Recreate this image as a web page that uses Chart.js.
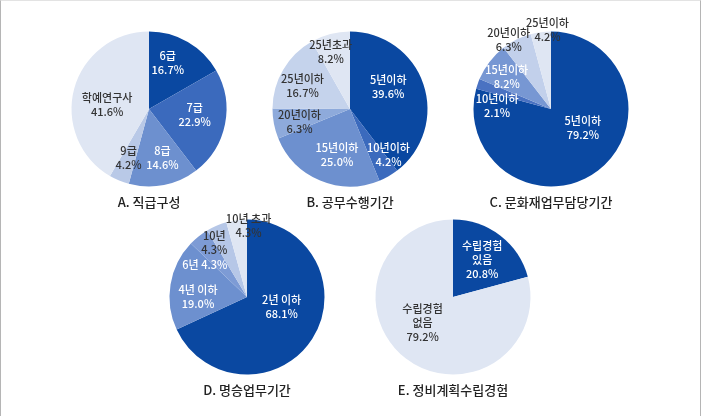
<!DOCTYPE html>
<html><head><meta charset="utf-8">
<script src="https://cdn.jsdelivr.net/npm/chart.js@4.4.1/dist/chart.umd.min.js"></script>
<style>
html,body{margin:0;padding:0;background:#fff;}
#wrap{position:relative;width:701px;height:416px;box-sizing:border-box;border-left:1px solid #b5b5b5;border-right:1px solid #b5b5b5;border-top:1px solid #e3e3e3;overflow:hidden;}
canvas{position:absolute;}
</style></head><body><div id="wrap">
<canvas id="cA" width="240" height="206" style="left:28px;top:8px"></canvas>
<canvas id="cB" width="240" height="206" style="left:229px;top:8px"></canvas>
<canvas id="cC" width="240" height="206" style="left:430px;top:8px"></canvas>
<canvas id="cD" width="240" height="206" style="left:126px;top:196px"></canvas>
<canvas id="cE" width="240" height="206" style="left:332px;top:196px"></canvas>
</div>
<script>
// ---- data ----
const catA = ['6급','7급','8급','9급','학예연구사'];
const valA = [16.7, 22.9, 14.6, 4.2, 41.6];
const catB = ['5년이하','10년이하','15년이하','20년이하','25년이하','25년초과'];
const valB = [39.6, 4.2, 25.0, 6.3, 16.7, 8.2];
const catC = ['5년이하','10년이하','15년이하','20년이하','25년이하'];
const valC = [79.2, 2.1, 8.2, 6.3, 4.2];
const catD = ['2년 이하','4년 이하','6년','10년','10년 초과'];
const valD = [68.1, 19.0, 4.3, 4.3, 4.3];
const catE = ['수립경험\n있음','수립경험\n없음'];
const valE = [20.8, 79.2];
const titles = ['A. 직급구성','B. 공무수행기간','C. 문화재업무담당기간','D. 명승업무기간','E. 정비계획수립경험'];

// ---- styles ----
const FONT = "'Noto Sans CJK KR', 'Noto Sans', sans-serif";
const DARK = '#0a48a1', C2 = '#3b6abd', C3 = '#6d90cf', C4 = '#8eaadb', C5 = '#b9c9e7', C6 = '#dfe6f3';
const W = '#ffffff', K = '#333333';

const sliceLabels = {
  id: 'sliceLabels',
  afterDatasetsDraw(chart, args, opts) {
    const ctx = chart.ctx;
    const meta = chart.getDatasetMeta(0);
    const ds = chart.data.datasets[0];
    meta.data.forEach((arc, i) => {
      const p = arc.getProps(['x','y','startAngle','endAngle','outerRadius'], true);
      const mid = (p.startAngle + p.endAngle) / 2 + (opts.shift[i] || 0) * Math.PI / 180;
      const r = opts.radius[i];
      const x = p.x + Math.cos(mid) * r, y = p.y + Math.sin(mid) * r;
      const name = chart.data.labels[i];
      const pct = ds.data[i].toFixed(1) + '%';
      const lines = (opts.inline || []).includes(i) ? [name + ' ' + pct] : name.split('\n').concat([pct]);
      ctx.save();
      ctx.font = '500 11px ' + FONT;
      ctx.fillStyle = opts.colors[i];
      ctx.textAlign = 'center';
      ctx.textBaseline = 'middle';
      const lh = 14;
      const y0 = y - (lines.length - 1) * lh / 2;
      lines.forEach((l, k) => ctx.fillText(l, x, y0 + k * lh));
      ctx.restore();
    });
  }
};

function makePie(id, cats, vals, title, colors, lab) {
  new Chart(document.getElementById(id), {
    type: 'pie',
    data: { labels: cats, datasets: [{ data: vals, backgroundColor: colors, borderWidth: 0, radius: 77.5 }] },
    options: {
      responsive: false, animation: false,
      events: [],
      layout: { padding: { top: 22, bottom: 5.4, left: 0, right: 0 } },
      plugins: {
        legend: { display: false },
        tooltip: { enabled: false },
        title: { display: true, position: 'bottom', text: title, color: '#222',
                 font: { size: 13, family: FONT, weight: '500' }, padding: { top: 7, bottom: 0 } },
        sliceLabels: lab
      }
    },
    plugins: [sliceLabels]
  });
}

makePie('cA', catA, valA, titles[0], [DARK, C2, C3, C5, C6],
  { radius: [50,46,51,53,42], shift: [-8,-4,-4,0,-10], colors: [W,W,W,K,K] });
makePie('cB', catB, valB, titles[1], [DARK, C2, C3, C4, '#c5d3ec', C6],
  { radius: [44,60,48,52,53,60], shift: [-11,-10,-7,-3,-4,-4], colors: [W,W,W,K,K,K] });
makePie('cC', catC, valC, titles[2], [DARK, '#4a72c2', '#7797d3', '#c2d0eb', C6],
  { radius: [37,54,55,81,79], shift: [-22,-15,-1,-5,5], colors: [W,W,W,K,K] });
makePie('cD', catD, valD, titles[3], [DARK, C3, '#7d9bd5', '#b6c7e7', C6],
  { radius: [36,49,53,63,71], shift: [-17,-9,-14,-8,9], colors: [W,W,W,K,K], inline: [2] });
makePie('cE', catE, valE, titles[4], [DARK, C6],
  { radius: [47,40], shift: [1,12], colors: [W,K] });
</script>
</body></html>
